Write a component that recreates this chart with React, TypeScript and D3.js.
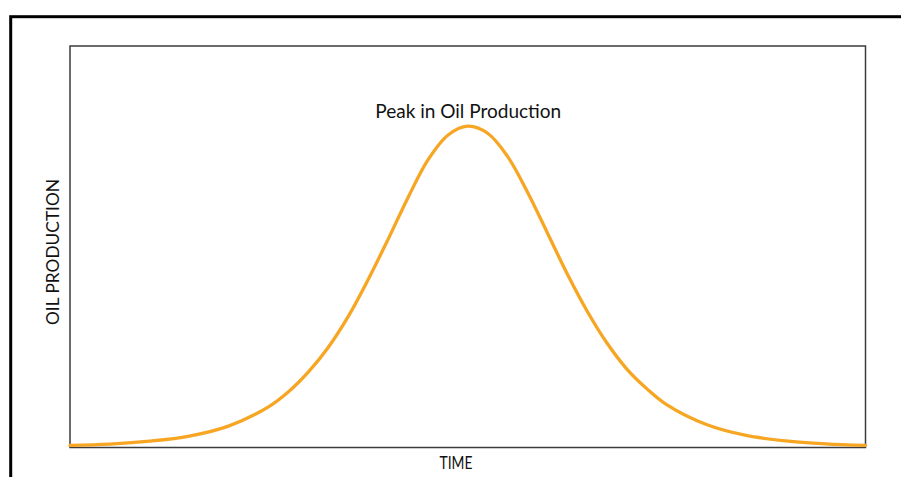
import React from "react";
import * as d3 from "d3";

// Time index (arbitrary units) and relative oil production
const timePoints = [0, 5, 10, 15, 20, 25, 27.5, 30, 32.5, 35, 37.5, 40, 42.5, 45, 47.5, 50, 52.5, 55, 57.5, 60, 62.5, 65, 67.5, 70, 72.5, 75, 80, 85, 90, 95, 100];
const production = [0.5, 0.9, 1.8, 3.4, 6.6, 12.6, 17.3, 23.5, 31.2, 40.8, 52.3, 64.8, 77.8, 89.5, 97.2, 100, 97.8, 90.6, 79.5, 66.8, 54.0, 42.4, 32.4, 24.3, 18.2, 13.2, 7.0, 3.6, 1.9, 1.0, 0.5];

const title = "Peak in Oil Production";
const xLabel = "TIME";
const yLabel = "OIL PRODUCTION";

const W = 901;
const H = 477;
const plot = { left: 70, right: 865.5, top: 46, bottom: 447.5 };

export default function App() {
  const x = d3.scaleLinear().domain([0, 100]).range([plot.left, plot.right]);
  const y = d3.scaleLinear().domain([0, 125]).range([447, plot.top]);
  const data = timePoints.map((t, i) => ({ t, v: production[i] }));
  const line = d3
    .line<{ t: number; v: number }>()
    .x((d) => x(d.t))
    .y((d) => y(d.v))
    .curve(d3.curveCatmullRom.alpha(0.5));
  const peak = data.reduce((a, b) => (b.v > a.v ? b : a));
  const font = "Lato, 'Open Sans', sans-serif";
  return (
    <svg width={W} height={H} style={{ position: "absolute", left: 0, top: 0, background: "#fff" }}>
      <rect x={10.7} y={16.7} width={1200} height={1200} fill="none" stroke="#000" strokeWidth={3} />
      <rect
        x={plot.left}
        y={plot.top}
        width={plot.right - plot.left}
        height={plot.bottom - plot.top}
        fill="#fff"
        stroke="#3c3c3c"
        strokeWidth={1.5}
      />
      <path d={line(data) || ""} fill="none" stroke="#F6A623" strokeWidth={3.3} strokeLinecap="round" />
      <text
        x={x(peak.t) + 0.5}
        y={118}
        textAnchor="middle"
        fontFamily={font}
        fontSize={19.5}
        fill="#111"
        textLength={186}
        lengthAdjust="spacingAndGlyphs"
      >
        {title}
      </text>
      <text
        x={456}
        y={468.5}
        textAnchor="middle"
        fontFamily={font}
        fontSize={17}
        fill="#111"
        textLength={33}
        lengthAdjust="spacingAndGlyphs"
      >
        {xLabel}
      </text>
      <text
        transform={`translate(58.5, 252) rotate(-90)`}
        textAnchor="middle"
        fontFamily={font}
        fontSize={17.5}
        fill="#111"
        textLength={146}
        lengthAdjust="spacingAndGlyphs"
      >
        {yLabel}
      </text>
    </svg>
  );
}
